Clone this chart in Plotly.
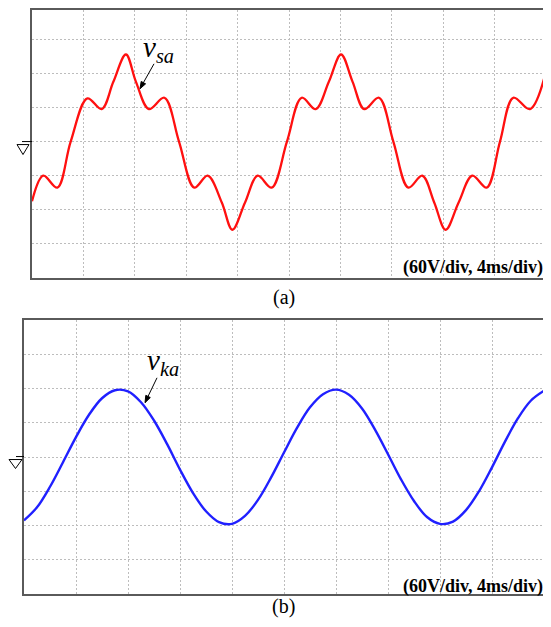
import plotly.graph_objects as go

# ---- data ----
# (a) source voltage v_sa, time in ms, volts
t_sa = [0, 0.88, 1.97, 3.01, 4.31, 5.42, 6.33, 7.31, 8.09, 9.1, 10.3, 11.44, 12.63,
        13.67, 14.77, 15.59, 16.58, 17.56, 18.65, 19.84, 20.99, 22.08, 23.1, 24.05,
        24.95, 25.86, 27.0, 28.12, 29.29, 30.37, 31.3, 32.19, 33.2, 34.27, 35.38,
        36.42, 37.46, 38.75, 40.0]
v_sa = [-105, -60, -81, 0, 76, 57, 105, 153, 105, 57, 77, 0, -81,
        -60, -107, -155, -107, -60, -81, 0, 77, 57, 105, 153,
        105, 57, 77, 0, -81, -60, -107, -155, -107, -60, -81,
        0, 77, 57, 123]

# (b) compensating voltage v_ka, time in ms, volts
t_ka = list(range(0, 41))
v_ka = [-111, -88, -52, -9, 35, 74, 103, 117, 115, 96, 64, 23, -22, -63, -95, -114,
        -117, -103, -75, -36, 8, 51, 87, 110, 118, 109, 85, 48, 5, -39, -77, -105,
        -117, -113, -93, -60, -18, 27, 68, 99, 116]

scale_text = "(60V/div, 4ms/div)"
panel_labels = ["(a)", "(b)"]

# the page body adds an 8px margin; size and place the figure to compensate
OFF = 8
W, H = 551 - OFF, 627 - OFF
def px(x):
    return (x - OFF) / W
def py(y):
    return 1 - (y - OFF) / H

# panel (a) in the reference spans y=3..277 (480 V over 274 px); the page margin
# hides the first 5 px, so trim the top of the range to keep the scale
V_PER_PX_A = 480 / 274
ytop_a = 240 - (OFF - 3) * V_PER_PX_A

fig = go.Figure()
fig.add_trace(go.Scatter(x=t_sa, y=v_sa, mode="lines", xaxis="x", yaxis="y",
                         line=dict(color="#ff1010", width=2.3, shape="spline", smoothing=1.0),
                         showlegend=False, hoverinfo="skip"))
fig.add_trace(go.Scatter(x=t_ka, y=v_ka, mode="lines", xaxis="x2", yaxis="y2",
                         line=dict(color="#2020ff", width=2.4, shape="spline", smoothing=1.0),
                         showlegend=False, hoverinfo="skip"))

axis_common = dict(showticklabels=False, ticks="", zeroline=False,
                   showgrid=True, gridcolor="#bdbdbd", griddash="2px,2px", gridwidth=1,
                   showline=True, linecolor="#5a5a5a", linewidth=1.5, mirror=True,
                   fixedrange=True)

fig.update_layout(
    width=W, height=H,
    margin=dict(l=0, r=0, t=0, b=0),
    paper_bgcolor="white", plot_bgcolor="white",
    font=dict(family="Liberation Serif", color="black"),
    xaxis=dict(domain=[px(32), px(546)], range=[0, 40], dtick=4, anchor="y", **axis_common),
    yaxis=dict(domain=[py(277), 1], range=[-240, ytop_a], tick0=0, dtick=60, anchor="x", **axis_common),
    xaxis2=dict(domain=[px(24), px(544)], range=[0, 40], dtick=4, anchor="y2", **axis_common),
    yaxis2=dict(domain=[py(594), py(319)], range=[-240, 240], dtick=60, anchor="x2", **axis_common),
)

ann = []
# signal labels
ann.append(dict(x=px(141), y=py(67), xref="paper", yref="paper", xanchor="left", yanchor="bottom",
                text="<i>v<sub>sa</sub></i>", showarrow=False,
                font=dict(family="Liberation Serif", size=29, color="black")))
ann.append(dict(x=px(145), y=py(381), xref="paper", yref="paper", xanchor="left", yanchor="bottom",
                text="<i>v<sub>ka</sub></i>", showarrow=False,
                font=dict(family="Liberation Serif", size=29, color="black")))
# scale text
for yc in (266, 586):
    ann.append(dict(x=px(545), y=py(yc), xref="paper", yref="paper", xanchor="right", yanchor="middle",
                    text="<b>" + scale_text + "</b>", showarrow=False,
                    font=dict(family="Liberation Serif", size=18, color="black")))
# panel labels
for lab, yc in zip(panel_labels, (296, 606)):
    ann.append(dict(x=px(283.5), y=py(yc), xref="paper", yref="paper", xanchor="center", yanchor="middle",
                    text=lab, showarrow=False,
                    font=dict(family="Liberation Serif", size=20, color="black")))
fig.update_layout(annotations=ann)

shapes = []
def P(x, y):
    return f"{px(x)} {py(y)}"

# pointer arrows (line + filled head)
def arrow(tail, head, base_c, b1, b2):
    shapes.append(dict(type="path", xref="paper", yref="paper",
                       path=f"M {P(*tail)} L {P(*base_c)}",
                       line=dict(color="black", width=1)))
    shapes.append(dict(type="path", xref="paper", yref="paper",
                       path=f"M {P(*head)} L {P(*b1)} L {P(*b2)} Z",
                       line=dict(color="black", width=1), fillcolor="black"))
arrow((154, 62), (140, 87), (143.4, 80.9), (145.6, 82.1), (141.2, 79.7))
arrow((157, 377), (145, 402), (148.0, 395.7), (150.3, 396.8), (145.8, 394.6))

# ground markers
def ground(xl, xr, ytop, ybot, xline0, xline1, yline):
    shapes.append(dict(type="path", xref="paper", yref="paper",
                       path=f"M {P(xl, ytop)} L {P(xr, ytop)} L {P((xl+xr)/2, ybot)} Z",
                       line=dict(color="black", width=1), fillcolor="white"))
    shapes.append(dict(type="line", xref="paper", yref="paper",
                       x0=px(xline0), x1=px(xline1), y0=py(yline), y1=py(yline),
                       line=dict(color="black", width=1)))
ground(17, 29, 143, 153, 22, 32, 140)
ground(9, 22, 459, 468, 16, 24, 456)
fig.update_layout(shapes=shapes)

fig.write_html("out.html")
